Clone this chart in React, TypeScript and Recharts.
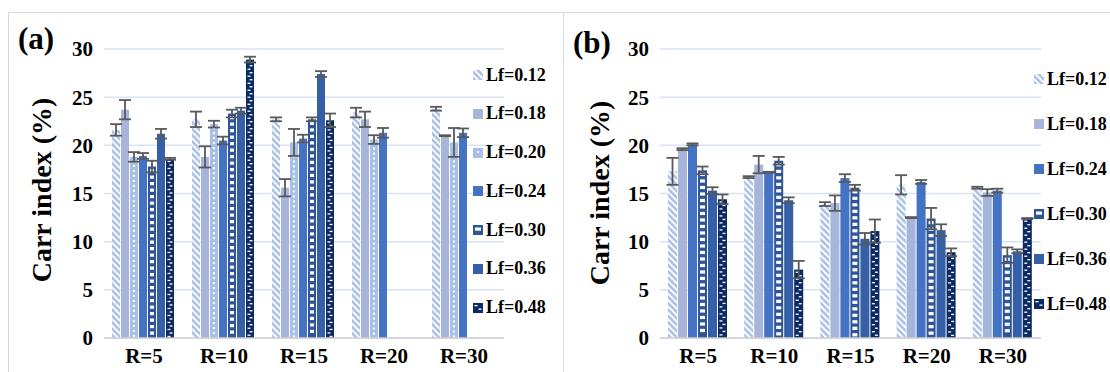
import { BarChart, Bar, XAxis, YAxis, CartesianGrid, ErrorBar } from 'recharts';

const categories = ['R=5', 'R=10', 'R=15', 'R=20', 'R=30'];
const yTicks = [0, 5, 10, 15, 20, 25, 30];

// panel (a)
const aLf012 = [21.6, 22.7, 22.7, 23.4, 23.8];
const aErr012 = [0.6, 0.8, 0.2, 0.5, 0.2];
const aLf018 = [23.7, 18.8, 15.6, 22.7, 21.0];
const aErr018 = [1.0, 1.1, 0.9, 0.8, 0.05];
const aLf020 = [18.8, 22.2, 20.3, 20.6, 20.3];
const aErr020 = [0.5, 0.35, 1.4, 0.45, 1.5];
const aLf024 = [18.9, 20.5, 20.7, 21.3, 21.3];
const aErr024 = [0.3, 0.4, 0.4, 0.5, 0.45];
const aLf030 = [17.8, 23.3, 22.7, null, null];
const aErr030 = [0.6, 0.4, 0.2, null, null];
const aLf036 = [21.2, 23.6, 27.4, null, null];
const aErr036 = [0.5, 0.3, 0.3, null, null];
const aLf048 = [18.6, 28.9, 22.6, null, null];
const aErr048 = [0.1, 0.3, 0.7, null, null];

// panel (b)
const bLf012 = [17.3, 16.7, 13.9, 15.9, 15.6];
const bErr012 = [1.4, 0.1, 0.2, 1.0, 0.1];
const bLf018 = [19.6, 18.0, 14.0, 12.5, 15.1];
const bErr018 = [0.1, 0.9, 0.8, 0.05, 0.35];
const bLf024 = [20.1, 17.2, 16.6, 16.2, 15.3];
const bErr024 = [0.1, 0.05, 0.4, 0.2, 0.2];
const bLf030 = [17.4, 18.4, 15.6, 12.4, 8.6];
const bErr030 = [0.4, 0.4, 0.3, 1.1, 0.8];
const bLf036 = [15.3, 14.3, 10.3, 11.2, 9.0];
const bErr036 = [0.35, 0.3, 0.6, 0.6, 0.2];
const bLf048 = [14.4, 7.1, 11.1, 8.9, 12.4];
const bErr048 = [0.5, 0.9, 1.2, 0.4, 0.05];

const seriesA = [
  { key: 'l012', name: 'Lf=0.12', kind: 'diag', values: aLf012, errors: aErr012 },
  { key: 'l018', name: 'Lf=0.18', kind: 'lavender', values: aLf018, errors: aErr018 },
  { key: 'l020', name: 'Lf=0.20', kind: 'dots', values: aLf020, errors: aErr020 },
  { key: 'l024', name: 'Lf=0.24', kind: 'mid', values: aLf024, errors: aErr024 },
  { key: 'l030', name: 'Lf=0.30', kind: 'bricks', values: aLf030, errors: aErr030 },
  { key: 'l036', name: 'Lf=0.36', kind: 'dark', values: aLf036, errors: aErr036 },
  { key: 'l048', name: 'Lf=0.48', kind: 'dash', values: aLf048, errors: aErr048 },
];

const seriesB = [
  { key: 'l012', name: 'Lf=0.12', kind: 'diag', values: bLf012, errors: bErr012 },
  { key: 'l018', name: 'Lf=0.18', kind: 'lavender', values: bLf018, errors: bErr018 },
  { key: 'l024', name: 'Lf=0.24', kind: 'mid', values: bLf024, errors: bErr024 },
  { key: 'l030', name: 'Lf=0.30', kind: 'bricks', values: bLf030, errors: bErr030 },
  { key: 'l036', name: 'Lf=0.36', kind: 'dark', values: bLf036, errors: bErr036 },
  { key: 'l048', name: 'Lf=0.48', kind: 'dash', values: bLf048, errors: bErr048 },
];

const fills: Record<string, string> = {
  diag: 'url(#diagStripe)',
  lavender: '#a8b5db',
  dots: '#a9bfe6',
  mid: '#4472c4',
  bricks: '#2f5597',
  dark: '#3560a8',
  dash: '#0b2962',
};

const FONT = '"Liberation Serif", "Times New Roman", serif';

const buildRows = (series: any[]) =>
  categories.map((c, i) => {
    const row: any = { cat: c };
    series.forEach((s) => {
      row[s.key] = s.values[i];
      row[s.key + 'E'] = s.errors[i];
    });
    return row;
  });

const PatternBar = ({ x, y, width, height, kind }: any) => {
  if (height == null || !(height > 0) || !isFinite(y)) return null;
  const marks: any[] = [];
  if (kind === 'dots') {
    for (let yy = y + 3; yy < y + height - 2; yy += 5) {
      marks.push(<rect key={yy} x={x + width / 2 - 1} y={yy} width={2} height={2} fill="#fff" />);
    }
  } else if (kind === 'bricks') {
    for (let yy = y + 2.5; yy < y + height - 3; yy += 6.5) {
      marks.push(<rect key={yy} x={x + 2} y={yy} width={Math.max(width - 4, 1)} height={3.2} fill="#fff" />);
    }
  } else if (kind === 'dash') {
    let i = 0;
    for (let yy = y + 2; yy < y + height - 2; yy += 3.5) {
      const xx = i % 2 === 0 ? x + 1.5 : x + width - 4.5;
      marks.push(<rect key={yy} x={xx} y={yy} width={3} height={1.3} fill="#fff" />);
      i++;
    }
  }
  return (
    <g>
      <rect x={x} y={y} width={width} height={height} fill={fills[kind]} />
      {marks}
    </g>
  );
};

const PanelChart = ({ series, width, rightMargin }: any) => {
  const rows = buildRows(series);
  return (
    <BarChart
      width={width}
      height={372}
      data={rows}
      margin={{ top: 49, right: rightMargin, bottom: 0, left: 0 }}
      barCategoryGap={8}
      barGap={1}
    >
      <CartesianGrid vertical={false} stroke="#d9e2f3" strokeWidth={1.5} />
      <XAxis
        dataKey="cat"
        height={34}
        tickLine={false}
        tickSize={0}
        tickMargin={10}
        axisLine={{ stroke: '#d0d0d0', strokeWidth: 1.5 }}
        tick={{ fontFamily: FONT, fontWeight: 'bold', fontSize: 21, fill: '#000' }}
      />
      <YAxis
        width={96}
        domain={[0, 30]}
        ticks={yTicks}
        interval={0}
        axisLine={false}
        tickLine={false}
        tickSize={0}
        tickMargin={11}
        tick={{ fontFamily: FONT, fontWeight: 'bold', fontSize: 21, fill: '#000' }}
      />
      {series.map((s: any) => (
        <Bar
          key={s.key}
          dataKey={s.key}
          name={s.name}
          isAnimationActive={false}
          shape={(p: any) => <PatternBar {...p} kind={s.kind} />}
        >
          <ErrorBar dataKey={s.key + 'E'} width={6} stroke="#595959" strokeWidth={1.8} direction="y" />
        </Bar>
      ))}
    </BarChart>
  );
};

const Legend = ({ series, swatchX, top, step }: any) => (
  <>
    {series.map((s: any, i: number) => (
      <div
        key={s.key}
        style={{
          position: 'absolute',
          left: swatchX,
          top: top + i * step - 11,
          height: 22,
          display: 'flex',
          alignItems: 'center',
          fontFamily: FONT,
          fontWeight: 'bold',
          fontSize: 18,
          color: '#000',
          whiteSpace: 'nowrap',
        }}
      >
        <svg width={10} height={10} style={{ marginRight: 3 }}>
          <PatternBar x={0} y={0} width={10} height={10} kind={s.kind} />
        </svg>
        {s.name}
      </div>
    ))}
  </>
);

const AxisTitle = ({ x, y }: any) => (
  <div
    style={{
      position: 'absolute',
      left: x,
      top: y,
      transform: 'translate(-50%, -50%) rotate(-90deg)',
      fontFamily: FONT,
      fontWeight: 'bold',
      fontSize: 28,
      whiteSpace: 'nowrap',
      color: '#000',
    }}
  >
    Carr index (%)
  </div>
);

const PanelTag = ({ x, y, text }: any) => (
  <div
    style={{
      position: 'absolute',
      left: x,
      top: y,
      fontFamily: FONT,
      fontWeight: 'bold',
      fontSize: 31,
      lineHeight: '31px',
      color: '#000',
    }}
  >
    {text}
  </div>
);

export default function App() {
  return (
    <div
      style={{
        position: 'fixed',
        left: 0,
        top: 0,
        width: 1110,
        height: 372,
        overflow: 'hidden',
        background: '#fff',
      }}
    >
      <svg width={0} height={0} style={{ position: 'absolute' }}>
        <defs>
          <pattern id="diagStripe" width={4.5} height={4.5} patternUnits="userSpaceOnUse" patternTransform="rotate(-45)">
            <rect width={4.5} height={4.5} fill="#adc3e8" />
            <rect width={1.8} height={4.5} fill="#ffffff" />
          </pattern>
        </defs>
      </svg>

      <div style={{ position: 'absolute', left: 8, top: 12, width: 556, height: 420, border: '1.5px solid #d9d9d9', boxSizing: 'border-box' }} />
      <div style={{ position: 'absolute', left: 563, top: 12, width: 560, height: 420, border: '1.5px solid #d9d9d9', boxSizing: 'border-box' }} />

      <div style={{ position: 'absolute', left: 8, top: 0 }}>
        <PanelChart series={seriesA} width={556} rightMargin={60} />
      </div>
      <div style={{ position: 'absolute', left: 564, top: 0 }}>
        <PanelChart series={seriesB} width={546} rightMargin={69} />
      </div>

      <PanelTag x={18} y={23} text="(a)" />
      <PanelTag x={573} y={27} text="(b)" />
      <AxisTitle x={42} y={190} />
      <AxisTitle x={600} y={193} />

      <Legend series={seriesA} swatchX={473} top={75} step={38.75} />
      <Legend series={seriesB} swatchX={1034} top={79} step={45} />
    </div>
  );
}
